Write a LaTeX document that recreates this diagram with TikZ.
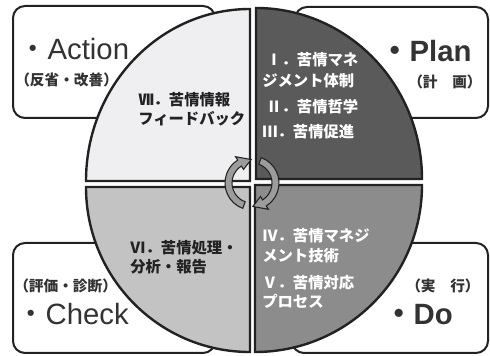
\documentclass[tikz,border=0pt]{standalone}
\usepackage{fontspec}
\setmainfont{Liberation Sans}
\newfontfamily\jp{Noto Sans CJK JP}
\usetikzlibrary{calc}
\definecolor{qTL}{HTML}{EFEFF1}
\definecolor{qTR}{HTML}{5A5A5A}
\definecolor{qBL}{HTML}{C3C3C3}
\definecolor{qBR}{HTML}{8C8C8C}
\definecolor{ink}{HTML}{222222}
\definecolor{boxink}{HTML}{333333}
\definecolor{arrowgray}{HTML}{9C9C9C}
\begin{document}
\begin{tikzpicture}[x=0.75pt,y=-0.75pt,
  box/.style={draw=ink, line width=1.5pt, rounded corners=9pt, fill=white},
  quad/.style={draw=ink, line width=1.8pt},
  big/.style={inner sep=0, anchor=base west, font=\fontsize{22}{22}\selectfont, text=boxink},
  bigb/.style={big, font=\bfseries\fontsize{22}{22}\selectfont},
  sub/.style={inner sep=0, anchor=west, font=\jp\bfseries\fontsize{11}{11}\selectfont, text=boxink},
  qtext/.style={inner sep=0, anchor=west, font=\jp\bfseries\fontsize{11.5}{11.5}\selectfont},
  darkq/.style={qtext, text=ink},
  lightq/.style={qtext, text=white},
  cyc/.style={draw=ink, line width=0.8pt, fill=arrowgray}]
\useasboundingbox (0,0) rectangle (490,356);
% boxes
\draw[box] (13,6) rectangle (215,118);
\draw[box] (295,7) rectangle (488,118);
\draw[box] (13,243) rectangle (215,353);
\draw[box] (292,243) rectangle (488,353);
% quadrants
\filldraw[quad, fill=qTL] (250,181) -- (86,181) arc[start angle=180, end angle=270, x radius=164, y radius=172] -- cycle;
\filldraw[quad, fill=qTR] (256,179) -- (256,8) arc[start angle=270, end angle=360, x radius=166, y radius=171] -- cycle;
\filldraw[quad, fill=qBL] (250,187) -- (250,352) arc[start angle=90, end angle=180, x radius=164, y radius=165] -- cycle;
\filldraw[quad, fill=qBR] (255,185) -- (422,185) arc[start angle=0, end angle=90, x radius=167, y radius=167] -- cycle;
% cycle arrows
\coordinate (C) at (252,183);
\filldraw[cyc] ($(C)+(110:27)$) arc[start angle=110, end angle=238, radius=27] -- ($(C)+(238:31)$) -- ($(C)+(268:23.5)$) -- ($(C)+(238:16)$) -- ($(C)+(238:20)$) arc[start angle=238, end angle=110, radius=20] -- cycle;
\filldraw[cyc] ($(C)+(290:27)$) arc[start angle=290, end angle=418, radius=27] -- ($(C)+(418:31)$) -- ($(C)+(448:23.5)$) -- ($(C)+(418:16)$) -- ($(C)+(418:20)$) arc[start angle=418, end angle=290, radius=20] -- cycle;
% box labels
\node[big] (act) at (18,60) {{\jp・}Action};
\node[sub] (actj) at (15,80) {（反省・改善）};
\node[bigb] (plan) at (380,62) {{\jp・}Plan};
\node[sub] (planj) at (408,82) {（計　画）};
\node[sub] (checkj) at (14,286) {（評価・診断）};
\node[big] (check) at (16,325) {{\jp・}Check};
\node[sub] (doj) at (406,286) {（実　行）};
\node[bigb] (do) at (384,325) {{\jp・}Do};
% quadrant texts
\node[darkq] (t7a) at (138,100) {Ⅶ．苦情情報};
\node[darkq] (t7b) at (138,119) {フィードバック};
\node[lightq] (t1a) at (266,60) {Ⅰ．苦情マネ};
\node[lightq] (t1b) at (262,81) {ジメント体制};
\node[lightq] (t2) at (266,107) {Ⅱ．苦情哲学};
\node[lightq] (t3) at (262,132) {Ⅲ．苦情促進};
\node[darkq] (t6a) at (130,248) {Ⅵ．苦情処理・};
\node[darkq] (t6b) at (130,267) {分析・報告};
\node[lightq] (t4a) at (262,236) {Ⅳ．苦情マネジ};
\node[lightq] (t4b) at (262,256) {メント技術};
\node[lightq] (t5a) at (262,283) {Ⅴ．苦情対応};
\node[lightq] (t5b) at (262,301) {プロセス};
\end{tikzpicture}
\end{document}
